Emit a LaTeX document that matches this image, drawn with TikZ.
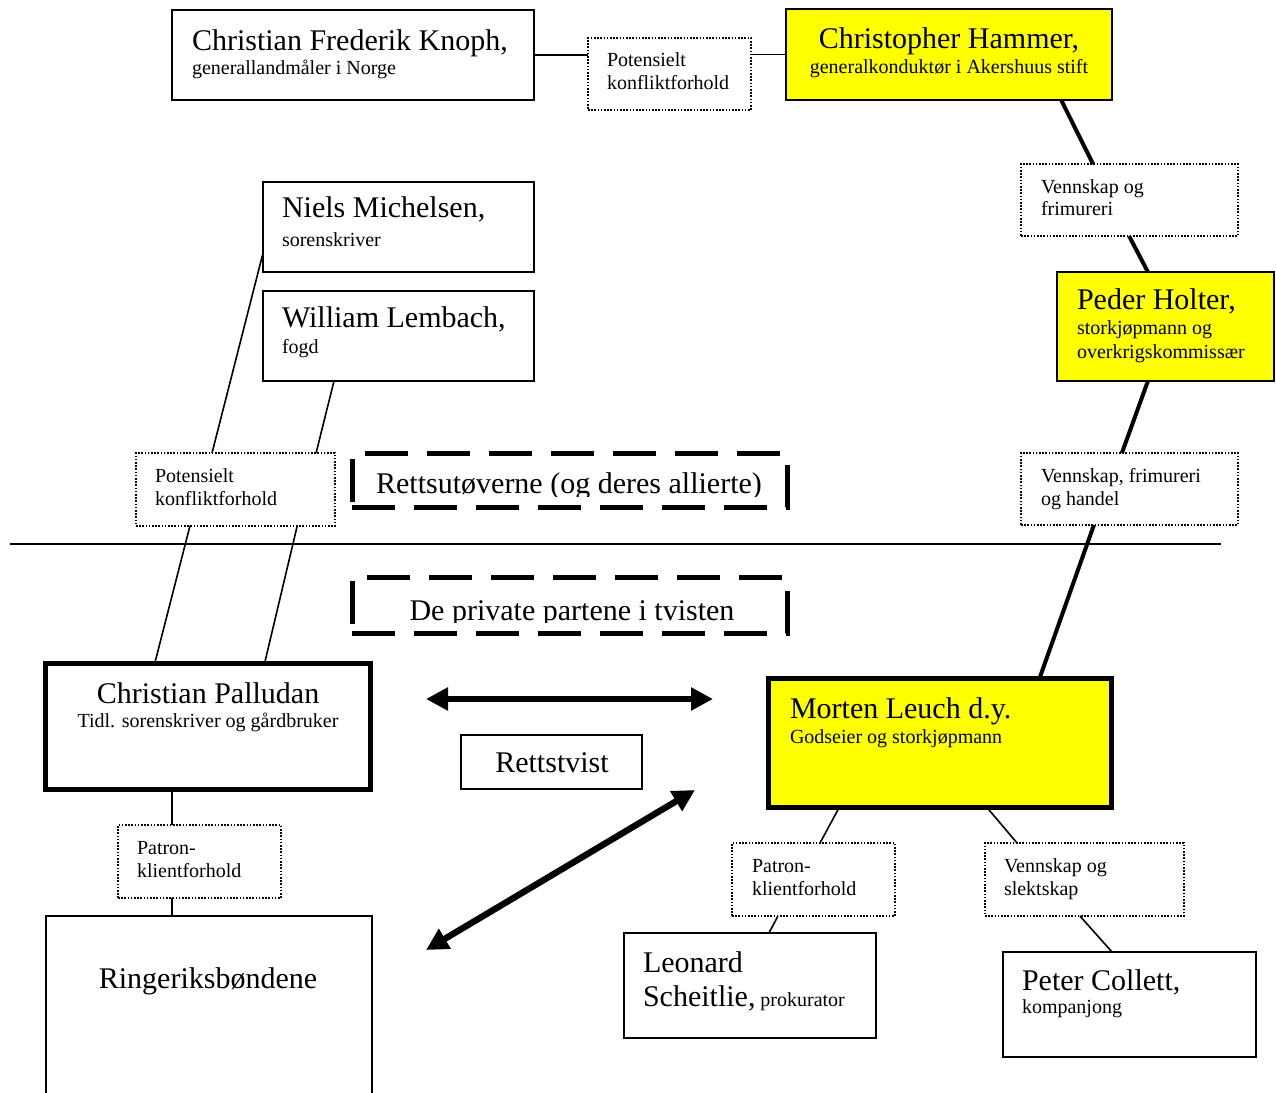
\documentclass[tikz,border=0pt]{standalone}
\usepackage{fontspec}
\setmainfont{Liberation Serif}
\usetikzlibrary{arrows.meta,calc}
\definecolor{yel}{RGB}{255,255,0}
\newcommand{\mkbox}[6]{\node[#6, minimum width={(#4-#2)*0.5pt}, minimum height={(#5-#3)*0.5pt}] (#1) at ({(#2+#4)/2},{(#3+#5)/2}) {};}
\tikzset{
 box/.style={draw, line width=1pt, inner sep=0pt, outer sep=0pt, fill=white},
 ybox/.style={box, fill=yel},
 thickbox/.style={box, line width=2.6pt},
 ythickbox/.style={box, line width=2.6pt, fill=yel},
 dotbox/.style={draw, line width=0.8pt, dash pattern=on 0.8pt off 0.8pt, inner sep=0pt, outer sep=0pt, fill=white},
 dashbox/.style={draw, line width=2.5pt, dash pattern=on 21.5pt off 9.5pt, inner sep=0pt, outer sep=0pt},
 bigtxt/.style={font=\fontsize{15}{18}\selectfont, inner sep=0pt, outer sep=0pt},
 smalltxt/.style={font=\fontsize{10}{12}\selectfont, inner sep=0pt, outer sep=0pt},
 lnk/.style={line width=0.8pt},
 thicklnk/.style={line width=2pt},
 bigarrow/.style={line width=3.2pt, {Triangle[length=11pt,width=11pt]}-{Triangle[length=11pt,width=11pt]}},
}
\begin{document}
\begin{tikzpicture}[x=0.5pt,y=-0.5pt]
\useasboundingbox (0,0) rectangle (1276,1093);
% ---- boxes
\mkbox{knoph}{172}{10}{534}{100}{box}
\mkbox{pot1}{588}{38}{751}{110}{dotbox}
\mkbox{hammer}{786}{9}{1112}{100}{ybox}
\mkbox{ven1}{1021}{164}{1238}{236}{dotbox}
\mkbox{holter}{1057}{272}{1274}{381}{ybox}
\mkbox{ven2}{1021}{453}{1238}{525}{dotbox}
\mkbox{niels}{263}{182}{534}{272}{box}
\mkbox{lembach}{263}{291}{534}{381}{box}
\mkbox{pot2}{136}{453}{335}{526}{dotbox}
\mkbox{dash1}{352}{453}{787}{507}{dashbox}
\mkbox{dash2}{352}{577}{787}{633}{dashbox}
\mkbox{pall}{45.5}{663.5}{370.5}{789.5}{thickbox}
\mkbox{rett}{461}{735}{642}{789}{box}
\mkbox{morten}{768.5}{678.5}{1111.5}{807.5}{ythickbox}
\mkbox{pot3}{118}{825}{281}{898}{dotbox}
\mkbox{ring}{46}{916}{372}{1110}{box}
\mkbox{pat4}{732}{843}{895}{916}{dotbox}
\mkbox{ven3}{985}{843}{1184}{916}{dotbox}
\mkbox{leon}{624}{933}{876}{1038}{box}
\mkbox{coll}{1003}{952}{1256}{1057}{box}
% ---- texts
\node[bigtxt, anchor=base west] (tknoph1) at (192,50) {Christian Frederik Knoph,};
\node[smalltxt, anchor=base west] (tknoph2) at (192,74) {generallandmåler i Norge};
\node[smalltxt, anchor=base west] (tpot1a) at (607,66) {Potensielt};
\node[smalltxt, anchor=base west] (tpot1b) at (607,89) {konfliktforhold};
\node[bigtxt, anchor=base] (tham1) at (949,48) {Christopher Hammer,};
\node[smalltxt, anchor=base] (tham2) at (949,73) {generalkonduktør i Akershuus stift};
\node[smalltxt, anchor=base west] (tven1a) at (1041,193) {Vennskap og};
\node[smalltxt, anchor=base west] (tven1b) at (1041,215) {frimureri};
\node[bigtxt, anchor=base west] (thol1) at (1077,309) {Peder Holter,};
\node[smalltxt, anchor=base west] (thol2) at (1077,334) {storkjøpmann og};
\node[smalltxt, anchor=base west] (thol3) at (1077,358) {overkrigskommissær};
\node[smalltxt, anchor=base west] (tven2a) at (1041,482) {Vennskap, frimureri};
\node[smalltxt, anchor=base west] (tven2b) at (1041,505) {og handel};
\node[bigtxt, anchor=base west] (tnie1) at (282,217) {Niels Michelsen,};
\node[smalltxt, anchor=base west] (tnie2) at (282,246) {sorenskriver};
\node[bigtxt, anchor=base west] (tlem1) at (282,327) {William Lembach,};
\node[smalltxt, anchor=base west] (tlem2) at (282,353) {fogd};
\node[smalltxt, anchor=base west] (tpot2a) at (155,482) {Potensielt};
\node[smalltxt, anchor=base west] (tpot2b) at (155,505) {konfliktforhold};
\begin{scope}
\clip (352,450) rectangle (787,496);
\node[bigtxt, anchor=base] (tdash1) at (569,493) {Rettsutøverne (og deres allierte)};
\end{scope}
\begin{scope}
\clip (352,574) rectangle (787,622);
\node[bigtxt, anchor=base] (tdash2) at (572,620) {De private partene i tvisten};
\end{scope}
\node[bigtxt, anchor=base] (tpal1) at (208,703) {Christian Palludan};
\node[smalltxt, anchor=base] (tpal2) at (208,727) {Tidl. sorenskriver og gårdbruker};
\node[bigtxt, anchor=base] (trett) at (552,772) {Rettstvist};
\node[bigtxt, anchor=base west] (tmor1) at (790,718) {Morten Leuch d.y.};
\node[smalltxt, anchor=base west] (tmor2) at (790,743) {Godseier og storkjøpmann};
\node[smalltxt, anchor=base west] (tpot3a) at (137,854) {Patron-};
\node[smalltxt, anchor=base west] (tpot3b) at (137,877) {klientforhold};
\node[smalltxt, anchor=base west] (tpat4a) at (752,872) {Patron-};
\node[smalltxt, anchor=base west] (tpat4b) at (752,895) {klientforhold};
\node[smalltxt, anchor=base west] (tven3a) at (1004,872) {Vennskap og};
\node[smalltxt, anchor=base west] (tven3b) at (1004,895) {slektskap};
\node[bigtxt, anchor=base] (tring) at (208,988) {Ringeriksbøndene};
\node[bigtxt, anchor=base west] (tleo1) at (643,972) {Leonard};
\node[bigtxt, anchor=base west] (tleo2) at (643,1006) {Scheitlie,{\fontsize{10}{12}\selectfont\ prokurator}};
\node[bigtxt, anchor=base west] (tcol1) at (1022,990) {Peter Collett,};
\node[smalltxt, anchor=base west] (tcol2) at (1022,1013) {kompanjong};
% ---- connectors
\draw[lnk] (knoph.east) -- (knoph.east -| pot1.west);
\draw[lnk] (pot1.east |- hammer.west) -- (hammer.west);
\draw[thicklnk] ($(hammer.south west)!0.844!(hammer.south east)$) -- ($(ven1.north west)!0.332!(ven1.north east)$);
\draw[thicklnk] ($(ven1.south west)!0.498!(ven1.south east)$) -- ($(holter.north west)!0.419!(holter.north east)$);
\draw[thicklnk] ($(holter.south west)!0.419!(holter.south east)$) -- ($(ven2.north west)!0.465!(ven2.north east)$);
\draw[thicklnk] ($(ven2.south west)!0.336!(ven2.south east)$) -- ($(morten.north west)!0.79!(morten.north east)$);
\draw[lnk] ($(niels.north west)!0.79!(niels.south west)$) -- ($(pot2.north west)!0.382!(pot2.north east)$);
\draw[lnk] ($(lembach.south west)!0.262!(lembach.south east)$) -- ($(pot2.north west)!0.905!(pot2.north east)$);
\draw[lnk] ($(pot2.south west)!0.271!(pot2.south east)$) -- ($(pall.north west)!0.336!(pall.north east)$);
\draw[lnk] ($(pot2.south west)!0.81!(pot2.south east)$) -- ($(pall.north west)!0.674!(pall.north east)$);
\coordinate (pp) at ($(pall.south west)!0.389!(pall.south east)$);
\draw[lnk] (pp) -- (pp |- pot3.north);
\draw[lnk] (pp |- pot3.south) -- (pp |- ring.north);
\draw[lnk] ($(morten.south west)!0.206!(morten.south east)$) -- ($(pat4.north west)!0.54!(pat4.north east)$);
\draw[lnk] ($(pat4.south west)!0.282!(pat4.south east)$) -- ($(leon.north west)!0.575!(leon.north east)$);
\draw[lnk] ($(morten.south west)!0.637!(morten.south east)$) -- ($(ven3.north west)!0.161!(ven3.north east)$);
\draw[lnk] ($(ven3.south west)!0.477!(ven3.south east)$) -- ($(coll.north west)!0.431!(coll.north east)$);
% ---- divider
\coordinate (hl1) at (10,544);
\coordinate (hl2) at (1221,544);
\draw[line width=1pt] (hl1) -- (hl2);
% ---- arrows
\coordinate (a1l) at (426,699);
\coordinate (a1r) at (713,699);
\draw[bigarrow] (a1l) -- (a1r);
\coordinate (a2a) at (426,950);
\coordinate (a2b) at (695,790);
\draw[bigarrow] (a2a) -- (a2b);
\end{tikzpicture}
\end{document}
